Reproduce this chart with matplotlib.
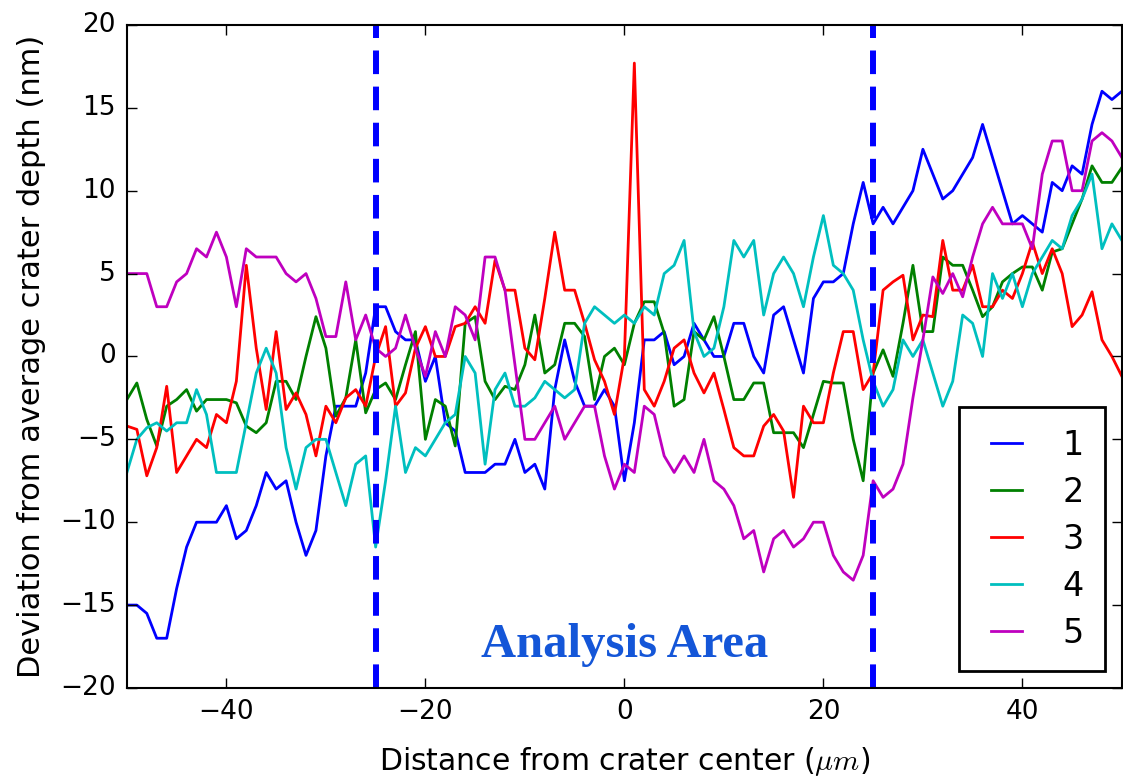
import numpy as np
import matplotlib.pyplot as plt

plt.style.use('classic')
plt.rcParams['font.family'] = ['DejaVu Sans']

# surface profiles, sampled every 1 um across the crater
x = np.arange(-50, 51, 1)

depth_1 = [-15, -15, -15.5, -17, -17, -14, -11.5, -10, -10, -10,
           -9, -11, -10.5, -9, -7, -8, -7.5, -10, -12, -10.5,
           -6, -3, -3, -3, -1, 3, 3, 1.5, 1, 1,
           -1.5, 0, -4, -4.5, -7, -7, -7, -6.5, -6.5, -5,
           -7, -6.5, -8, -2, 1, -1.5, -3, -3, -2, -3,
           -7.5, -4, 1, 1, 1.5, -0.5, 0, 2, 1, 0,
           0, 2, 2, 0, -1, 2.5, 3, 1, -1, 3.5,
           4.5, 4.5, 5, 8, 10.5, 8, 9, 8, 9, 10,
           12.5, 11, 9.5, 10, 11, 12, 14, 12, 10, 8,
           8.5, 8, 7.5, 10.5, 10, 11.5, 11, 14, 16, 15.5,
           16]
depth_2 = [-2.6, -1.6, -3.8, -5.4, -3, -2.6, -2, -3.3, -2.6, -2.6,
           -2.6, -2.8, -4.2, -4.6, -4, -1.5, -1.5, -2.6, 0, 2.4,
           0.5, -3.6, -2.5, 1, -3.4, -2, -1.6, -2.6, -0.5, 1.5,
           -5, -2.6, -3, -5.4, 2, 2.4, -1.5, -2.6, -1.8, -2,
           -0.5, 2.5, -1, -0.5, 2, 2, 1.2, -2.6, 0, 0.5,
           -0.5, 2, 3.3, 3.3, 1.4, -3, -2.6, 1.5, 1, 2.4,
           0, -2.6, -2.6, -1.6, -1.6, -4.6, -4.6, -4.6, -5.5, -3.5,
           -1.5, -1.6, -1.6, -5, -7.5, -1, 0.4, -1.2, 2, 5.5,
           1.5, 1.5, 6, 5.5, 5.5, 4, 2.4, 3, 4.5, 5,
           5.4, 5.4, 4, 6.3, 6.5, 8, 9.5, 11.5, 10.5, 10.5,
           11.4]
depth_3 = [-4.2, -4.4, -7.2, -5.5, -1.8, -7, -6, -5, -5.5, -3.5,
           -4, -1.5, 5.5, 0.5, -3.2, 1.5, -3.2, -2.2, -3.5, -6,
           -3, -4, -2.5, -2, -3, 0, 1.8, -3, -2.2, 0.5,
           1.8, 0, 0, 1.8, 2, 3, 2, 5.8, 4, 4,
           0.5, -0.2, 3.5, 7.5, 4, 4, 2, -0.2, -1.5, -3.5,
           0, 17.7, -2, -3, -1.5, 0.5, 1, -1, -2.2, -1,
           -3.2, -5.5, -6, -6, -4.2, -3.5, -4.5, -8.5, -3, -4,
           -4, -1, 1.5, 1.5, -2, -1, 4, 4.5, 4.9, 1,
           2.5, 2.4, 7, 4, 4, 5.5, 3, 3, 4, 3.5,
           5, 6.9, 5, 6.5, 5, 1.8, 2.5, 3.9, 1, 0,
           -1.2]
depth_4 = [-7, -5, -4.3, -4, -4.5, -4, -4, -2, -3.5, -7,
           -7, -7, -4, -1, 0.5, -1, -5.5, -8, -5.5, -5,
           -5, -7, -9, -6.5, -6, -11.5, -7.5, -3, -7, -5.5,
           -6, -5, -4, -3.5, 0, -1, -6.5, -2, -1, -3,
           -3, -2.5, -1.5, -2, -2.5, -2, 2, 3, 2.5, 2,
           2.5, 2, 3, 2.5, 5, 5.5, 7, 1.5, 0, 0.5,
           3, 7, 6, 7, 2.5, 5, 6, 5, 3, 6,
           8.5, 5.5, 5, 4, 1, -1.5, -3, -2, 1, 0,
           1, -1, -3, -1.5, 2.5, 2, 0, 5, 3.5, 5,
           3, 5, 6, 7, 6.5, 8.5, 9.5, 11, 6.5, 8,
           7]
depth_5 = [5, 5, 5, 3, 3, 4.5, 5, 6.5, 6, 7.5,
           6, 3, 6.5, 6, 6, 6, 5, 4.5, 5, 3.5,
           1.2, 1.2, 4.5, 1, 2.5, 0.5, 0, 0.5, 2.5, 0.5,
           -1.2, 1.5, 0, 3, 2.5, 1, 6, 6, 4, -0.5,
           -5, -5, -4, -3, -5, -4, -3, -3, -6, -8,
           -6.5, -7, -3, -3.5, -6, -7, -6, -7, -5, -7.5,
           -8, -9, -11, -10.5, -13, -11, -10.5, -11.5, -11, -10,
           -10, -12, -13, -13.5, -12, -7.5, -8.5, -8, -6.5, -2.5,
           1, 4.8, 3.8, 5, 3.6, 6, 8, 9, 8, 8,
           8, 6.5, 11, 13, 13, 10, 10, 13, 13.5, 13,
           12]

profiles = [depth_1, depth_2, depth_3, depth_4, depth_5]
labels = ['1', '2', '3', '4', '5']
colors = ['b', 'g', 'r', 'c', 'm']
area_edges = [-25, 25]

fig = plt.figure(figsize=(11.23, 7.80), dpi=100, facecolor='white')
ax = fig.add_axes([0.113, 0.118, 0.886, 0.85])

for d, lab, c in zip(profiles, labels, colors):
    ax.plot(x, d, color=c, lw=2, label=lab)

# edges of the analysis window
for edge in area_edges:
    ax.axvline(edge, color='b', lw=4.3, ls='--', dashes=(17, 9))

ax.text(0, -17.4, 'Analysis Area', ha='center', va='center',
        fontsize=35, fontweight='bold', color='#1456d8',
        family='Liberation Serif')

ax.set_xlim(-50, 50)
ax.set_ylim(-20, 20)
ax.set_xticks([-40, -20, 0, 20, 40])
ax.set_yticks(np.arange(-20, 21, 5))
ax.tick_params(labelsize=19, length=7, width=1, direction='in', pad=8)
for s in ax.spines.values():
    s.set_linewidth(1.5)

ax.set_xlabel(r'Distance from crater center ($\mu m$)', fontsize=21.5,
              labelpad=14)
ax.set_ylabel('Deviation from average crater depth (nm)', fontsize=22,
              labelpad=10)

leg = ax.legend(loc='lower right', fontsize=24, handlelength=1.55,
                labelspacing=0.42, borderpad=0.65, handletextpad=0.9,
                borderaxespad=0.5)
leg.get_frame().set_linewidth(2)

fig.savefig('out.png', dpi=100, facecolor='white')
